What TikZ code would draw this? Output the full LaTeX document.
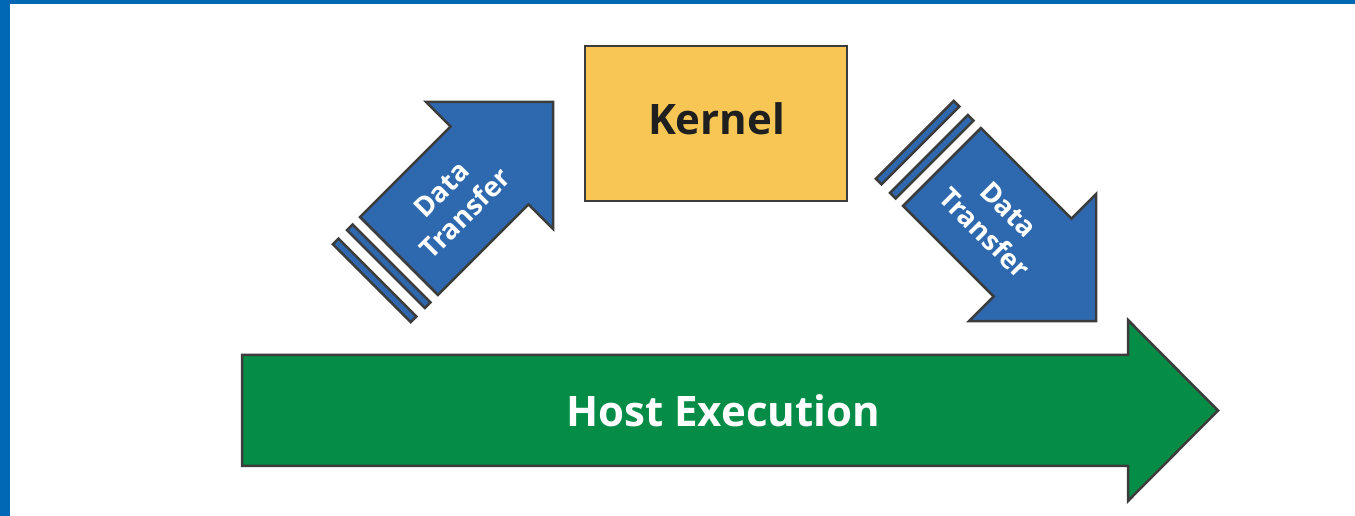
\documentclass[tikz,border=0pt]{standalone}
\usepackage{fontspec}
\setmainfont{Open Sans}
\definecolor{frameblue}{HTML}{0068B5}
\definecolor{dtblue}{HTML}{2E69B0}
\definecolor{kernyellow}{HTML}{F7C654}
\definecolor{hostgreen}{HTML}{058C46}
\definecolor{edgegray}{HTML}{3C3C3C}
\tikzset{
  shapeedge/.style={draw=edgegray, line width=2.5pt, line join=miter},
  dtarrow/.style={shapeedge, fill=dtblue},
  dttext/.style={text=white, font=\fontsize{27.5}{34}\selectfont\bfseries, align=center, inner sep=0pt},
  kernelbox/.style={shapeedge, fill=kernyellow, minimum width=262pt, minimum height=155pt, inner sep=0pt},
  kerneltext/.style={font=\fontsize{42}{50}\selectfont\bfseries, text=black!88, inner sep=0pt},
  hosttext/.style={text=white, font=\fontsize{42}{50}\selectfont\bfseries, inner sep=0pt}
}
\begin{document}
\begin{tikzpicture}[x=1pt,y=1pt]
\useasboundingbox (0,0) rectangle (1355,516);
% frame
\fill[frameblue] (0,512) rectangle (1355,516);
\fill[frameblue] (0,0) rectangle (10,516);

% kernel
\node[kernelbox] (kernel) at (716,392.5) {};
\node[kerneltext, anchor=base] (kerneltxt) at (716.5,381) {Kernel};

% host execution arrow
\draw[shapeedge, fill=hostgreen] (242,50) -- (1128,50) -- (1128,15) -- (1218,105.5)
  -- (1128,196) -- (1128,161) -- (242,161) -- cycle;
\node[hosttext, anchor=base] (host) at (723,89.5) {Host Execution};

% left data transfer arrow
\begin{scope}[shift={(399,260)}, rotate=45]
  \draw[dtarrow] (0,-55) -- (128,-55) -- (128,-90) -- (218,0) -- (128,90) -- (128,55) -- (0,55) -- cycle;
  \draw[dtarrow] (-18.5,-55) rectangle (-10.5,55);
  \draw[dtarrow] (-38.5,-55) rectangle (-30.5,55);
  \node[dttext, rotate=45] (dtleft) at (77,0) {Data\\Transfer};
\end{scope}

% right data transfer arrow
\begin{scope}[shift={(942,349)}, rotate=-45]
  \draw[dtarrow] (0,-55) -- (128,-55) -- (128,-90) -- (218,0) -- (128,90) -- (128,55) -- (0,55) -- cycle;
  \draw[dtarrow] (-18.5,-55) rectangle (-10.5,55);
  \draw[dtarrow] (-38.5,-55) rectangle (-30.5,55);
  \node[dttext, rotate=-45] (dtright) at (77,0) {Data\\Transfer};
\end{scope}
\end{tikzpicture}
\end{document}
